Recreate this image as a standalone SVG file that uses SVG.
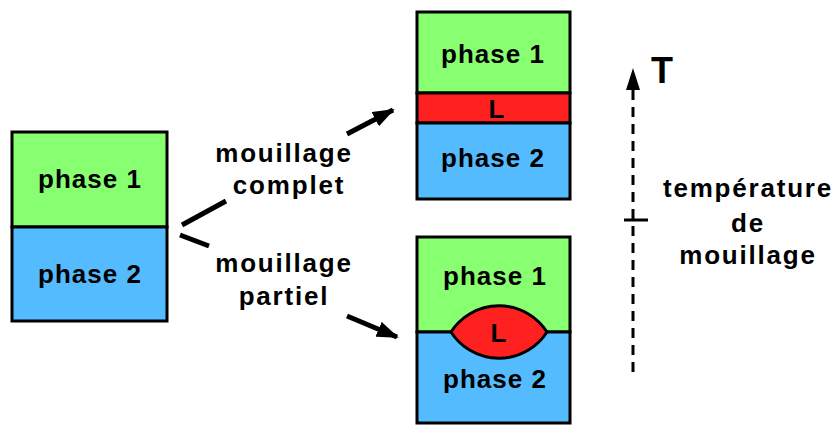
<svg xmlns="http://www.w3.org/2000/svg" width="839" height="426" viewBox="0 0 839 426">
<style>
.box{stroke:#000;stroke-width:3}
.g{fill:#88FF70}
.b{fill:#55BBFF}
.r{fill:#FF2020}
text{font-family:"Liberation Sans",Arial,sans-serif;font-weight:bold;fill:#000;text-anchor:middle}
.ph{font-size:26px;letter-spacing:1px}
.lb{font-size:26px;letter-spacing:1.8px}
.conn{stroke:#000;stroke-width:5;fill:none}
</style>
<defs>
<marker id="ah" markerUnits="userSpaceOnUse" markerWidth="22" markerHeight="16" refX="20" refY="8" orient="auto">
<path d="M0,0 L22,8 L0,16 Z" fill="#000"/>
</marker>
</defs>
<rect width="839" height="426" fill="#fff"/>
<g id="left">
<rect class="box g" x="12" y="132" width="155" height="95"/>
<rect class="box b" x="12" y="227" width="155" height="94"/>
<text class="ph" x="90" y="188">phase 1</text>
<text class="ph" x="90" y="283">phase 2</text>
</g>
<g id="complet">
<rect class="box g" x="417" y="12" width="153" height="81"/>
<rect class="box r" x="417" y="93" width="153" height="30"/>
<rect class="box b" x="417" y="123" width="153" height="76"/>
<text class="ph" x="493" y="63">phase 1</text>
<text class="ph" x="497" y="118">L</text>
<text class="ph" x="493" y="167">phase 2</text>
</g>
<g id="partiel">
<rect class="box g" x="417" y="237" width="153" height="95"/>
<rect class="box b" x="417" y="332" width="153" height="91"/>
<path class="box r" d="M451,332 A57,57 0 0 1 547,332 A57,57 0 0 1 451,332 Z"/>
<text class="ph" x="495" y="285">phase 1</text>
<text class="ph" x="499" y="342">L</text>
<text class="ph" x="495" y="388">phase 2</text>
</g>
<g id="labels">
<text class="lb" x="284" y="162">mouillage</text>
<text class="lb" x="289" y="194">complet</text>
<text class="lb" x="284" y="272">mouillage</text>
<text class="lb" x="284" y="305">partiel</text>
</g>
<g id="connectors">
<line class="conn" x1="182" y1="225" x2="226" y2="201"/>
<line class="conn" x1="347" y1="134" x2="393" y2="110" marker-end="url(#ah)"/>
<line class="conn" x1="180" y1="235" x2="209" y2="246"/>
<line class="conn" x1="347" y1="316" x2="397" y2="337" marker-end="url(#ah)"/>
</g>
<g id="axis">
<line x1="633" y1="372" x2="633" y2="88" stroke="#000" stroke-width="3" stroke-dasharray="10,7"/>
<path d="M633,68 L640,90 L626,90 Z" fill="#000"/>
<line x1="624" y1="220" x2="648" y2="220" stroke="#000" stroke-width="3"/>
<text x="662" y="83" style="font-size:36px">T</text>
<text class="lb" x="748" y="197">température</text>
<text class="lb" x="748" y="232">de</text>
<text class="lb" x="748" y="264">mouillage</text>
</g>
</svg>
